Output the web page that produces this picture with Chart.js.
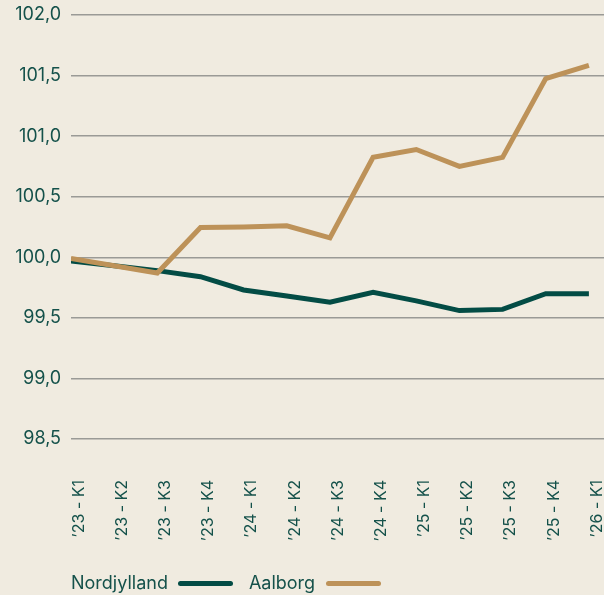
<!DOCTYPE html>
<html>
<head>
<meta charset="utf-8">
<script src="https://cdn.jsdelivr.net/npm/chart.js@4/dist/chart.umd.min.js"></script>
<style>
  html, body { margin:0; padding:0; background:#f0ebe0; }
  #wrap { position:relative; width:604px; height:595px; background:#f0ebe0; overflow:hidden; }
  #c { position:absolute; left:0; top:0; }
  #legend { position:absolute; left:71px; top:574px; display:flex; align-items:center;
            font-family: Inter, sans-serif; font-size:18px; line-height:18px; color:#14514a; white-space:nowrap; }
  .sw { display:inline-block; width:55px; height:5px; border-radius:3px; margin-left:10px; margin-right:16px; }
</style>
</head>
<body>
<div id="wrap">
  <canvas id="c" width="604" height="595"></canvas>
  <div id="legend"></div>
</div>
<script>
const categories = ["’23 - K1","’23 - K2","’23 - K3","’23 - K4","’24 - K1","’24 - K2","’24 - K3","’24 - K4","’25 - K1","’25 - K2","’25 - K3","’25 - K4","’26 - K1"];
const nordjylland = [99.97, 99.93, 99.89, 99.84, 99.73, 99.68, 99.63, 99.71, 99.64, 99.56, 99.57, 99.70, 99.70];
const aalborg     = [99.99, 99.93, 99.87, 100.245, 100.25, 100.26, 100.16, 100.825, 100.89, 100.75, 100.825, 101.475, 101.585];
const yTicks = [98.5, 99.0, 99.5, 100.0, 100.5, 101.0, 101.5, 102.0];

const seriesNames = ["Nordjylland", "Aalborg"];
const seriesColors = ["#034c45", "#bd9259"];

const toPts = arr => arr.map((v, i) => ({ x: i, y: v }));
const textColor = "#14514a";
const font = { family: "Inter, sans-serif", size: 18 };

new Chart(document.getElementById("c"), {
  type: "line",
  data: {
    datasets: [
      { label: seriesNames[0], data: toPts(nordjylland), borderColor: seriesColors[0], borderWidth: 5, pointRadius: 0, tension: 0, order: 1 },
      { label: seriesNames[1], data: toPts(aalborg), borderColor: seriesColors[1], borderWidth: 5, pointRadius: 0, tension: 0, order: 0 }
    ]
  },
  options: {
    responsive: false,
    animation: false,
    layout: { padding: { top: 15, right: 0, bottom: 36, left: 0 } },
    plugins: { legend: { display: false }, tooltip: { enabled: false } },
    scales: {
      x: {
        type: "linear",
        min: 0,
        max: 12.35,
        grid: { display: false, drawTicks: false },
        border: { display: false },
        afterFit: s => { s.height = 120; s.paddingLeft = 0; s.paddingRight = 0; },
        afterBuildTicks: s => { s.ticks = categories.map((_, i) => ({ value: i })); },
        ticks: {
          autoSkip: false,
          includeBounds: false,
          stepSize: 1,
          minRotation: 90,
          maxRotation: 90,
          padding: 41,
          labelOffset: 8,
          color: textColor,
          font: { family: "Inter, sans-serif", size: 16 },
          callback: v => categories[v] !== undefined ? categories[v] : ""
        }
      },
      y: {
        min: 98.5,
        max: 102.0,
        afterFit: s => { s.width = 71; s.paddingTop = 0; s.paddingBottom = 0; },
        afterBuildTicks: s => { s.ticks = yTicks.map(v => ({ value: v })); },
        grid: { color: "#9a9a96", lineWidth: 1.5, drawTicks: false },
        border: { display: false },
        ticks: {
          padding: 10,
          color: textColor,
          font: font,
          callback: v => Number(v).toFixed(1).replace(".", ",")
        }
      }
    }
  }
});

const legend = document.getElementById("legend");
seriesNames.forEach((n, i) => {
  const t = document.createElement("span");
  t.textContent = n;
  const s = document.createElement("span");
  s.className = "sw";
  s.style.background = seriesColors[i];
  if (i === 1) s.style.marginLeft = "11px";
  legend.appendChild(t);
  legend.appendChild(s);
});
</script>
</body>
</html>
